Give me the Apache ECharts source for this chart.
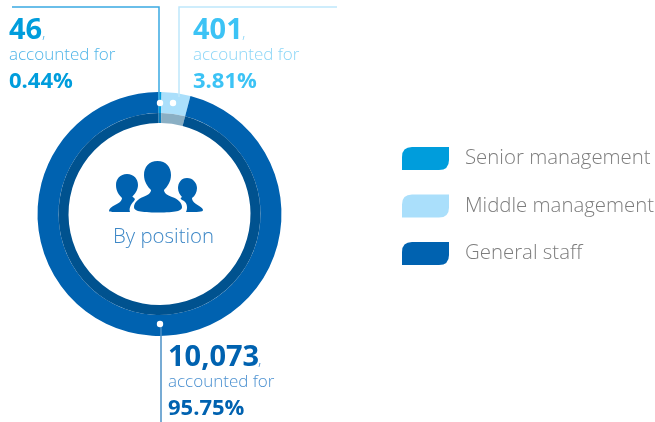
<!DOCTYPE html>
<html><head><meta charset="utf-8">
<script src="https://cdn.jsdelivr.net/npm/echarts@6/dist/echarts.min.js"></script>
<style>html,body{margin:0;padding:0;background:#fff}#c{width:655px;height:422px}</style>
</head><body><div id="c"></div>
<script>
const categories = ['Senior management', 'Middle management', 'General staff'];
const values = [46, 401, 10073];
const counts = ['46', '401', '10,073'];
const percents = ['0.44%', '3.81%', '95.75%'];
const centerLabel = 'By position';
const noteText = 'accounted for';

const outerColors = ['#009ddc', '#aadffb', '#0062b0'];
const innerColors = ['#0a7dbd', '#8aafc4', '#00528f'];
const font = '"Open Sans", "Noto Sans", sans-serif';
const chart = echarts.init(document.getElementById('c'), null, {renderer: 'canvas'});
const toData = cols => categories.map((n, i) => ({name: n, value: values[i], itemStyle: {color: cols[i]}}));
const pieBase = {type: 'pie', center: [159.5, 214], startAngle: 90.6, clockwise: true, silent: true,
  label: {show: false}, labelLine: {show: false}, animation: false, itemStyle: {borderWidth: 0}};

function block(x, y, i, big, light) {
  return [
    {type: 'text', left: x, top: y, style: {text: counts[i], font: `700 29px ${font}`, fill: big}},
    {type: 'text', left: x, top: y + 31, style: {text: noteText, font: `300 17px ${font}`, fill: light}},
    {type: 'text', left: x, top: y + 55, style: {text: percents[i], font: `700 22px ${font}`, fill: big}}
  ];
}
function line(points, color, w) {
  return {type: 'polyline', shape: {points}, z: 5, style: {stroke: color, lineWidth: w, fill: null}};
}
function dot(x, y) {
  return {type: 'circle', shape: {cx: x, cy: y, r: 3.2}, z: 6, style: {fill: '#fff'}};
}
const peoplePath =
 'M157.5 161 C149 161 144 167 144 175 C144 182 148 187 151 190 C151 193 148 195 143 197 C138 199 134 203 134 207 C134 211 140 212.5 158 212.5 C176 212.5 182 211 182 207 C182 203 178 199 172 197 C167 195 164 193 164 190 C167 187 171 182 171 175 C171 167 166 161 157.5 161 Z ' +
 'M127 174 C120 174 116 179 116 185 C116 191 119 195 122 198 C122 201 119 203 115 205 C111 207 109 209 109 211 C109 212 111 212 130 212 C129 209 130 205 134 201 L135 199 C133 197 132 196 132 197 C135 194 138 190 138 185 C138 179 134 174 127 174 Z ' +
 'M187 178 C181 178 178 183 178 188 C178 192 180 195 182 197 C180 198 180 199 184 201 C187 203 188 208 186 212 C198 212 203 212 203 210 C203 208 199 206 196 204 C193 202 192 200 192 198 C195 196 197 192 197 188 C197 183 193 178 187 178 Z';
echarts.graphic.registerShape('peopleIcon', echarts.graphic.extendPath(peoplePath));

chart.setOption({
  animation: false,
  legend: {
    orient: 'vertical', left: 397, top: 142, data: categories,
    icon: 'path://M10 0 H47 V13 Q47 23 37 23 H0 V10 Q0 0 10 0 Z',
    itemWidth: 47, itemHeight: 23, itemGap: 24.5, selectedMode: false,
    textStyle: {fontFamily: font, fontWeight: 300, fontSize: 20.4, color: '#7d7d7d', padding: [0, 0, 5, 11]}
  },
  series: [
    Object.assign({}, pieBase, {name: 'outer', radius: [101, 122], data: toData(outerColors)}),
    Object.assign({}, pieBase, {name: 'inner', radius: [91, 101], data: toData(innerColors)})
  ],
  graphic: {elements: [
    line([[12, 7], [159, 7], [159, 100]], '#3aa9e2', 1.5),
    line([[337, 7], [179, 7], [179, 97]], '#bfe7fb', 1.5),
    line([[161, 324], [161, 422]], '#4a8fc6', 1.5),
    dot(160, 103), dot(173, 103), dot(160, 324),
    {type: 'peopleIcon', z: 6, style: {fill: '#0062b0'}},
    {type: 'text', left: 113, top: 227, z: 6, style: {text: centerLabel, font: `300 20.4px ${font}`, fill: '#3d87c6'}},
    ...block(9, 16, 0, '#009ddc', '#4fb5e8'),
    {type: 'text', left: 42, top: 25, style: {text: ',', font: `300 16px ${font}`, fill: '#4fb5e8'}},
    ...block(193, 16, 1, '#3cc3f5', '#8cd6f7'),
    {type: 'text', left: 242, top: 25, style: {text: ',', font: `300 16px ${font}`, fill: '#8cd6f7'}},
    ...block(168, 343, 2, '#0062b0', '#4a90d0'),
    {type: 'text', left: 258, top: 352, style: {text: ',', font: `300 16px ${font}`, fill: '#4a90d0'}}
  ]}
});
</script></body></html>
